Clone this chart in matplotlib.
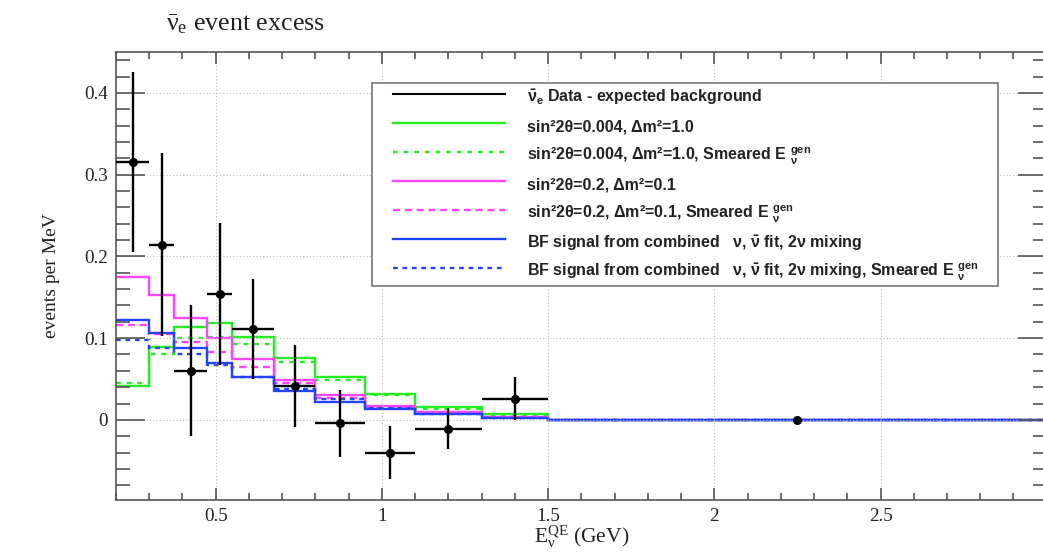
import numpy as np
import matplotlib
matplotlib.use("Agg")
import matplotlib.pyplot as plt
from matplotlib.lines import Line2D
from matplotlib.legend_handler import HandlerLine2D
from matplotlib.ticker import MultipleLocator, FuncFormatter
from matplotlib.font_manager import FontProperties

plt.rcParams['font.family'] = ['Liberation Serif', 'DejaVu Serif']
plt.rcParams['mathtext.default'] = 'regular'

# bin edges (GeV) and values
edges = [0.2, 0.3, 0.375, 0.475, 0.55, 0.675, 0.8, 0.95, 1.1, 1.3, 1.5, 3.0]
data_y = [0.315, 0.214, 0.060, 0.154, 0.111, 0.041, -0.004, -0.040, -0.011, 0.026, 0.0]
data_err = [0.110, 0.112, 0.080, 0.087, 0.061, 0.050, 0.041, 0.032, 0.025, 0.026, 0.002]

green_solid = [0.041, 0.089, 0.114, 0.118, 0.101, 0.076, 0.053, 0.032, 0.0155, 0.0073, 0.0]
green_dash = [0.045, 0.080, 0.100, 0.101, 0.093, 0.071, 0.049, 0.031, 0.0134, 0.005, 0.0]
pink_solid = [0.175, 0.153, 0.125, 0.100, 0.074, 0.049, 0.031, 0.0175, 0.0102, 0.004, 0.0]
pink_dash = [0.116, 0.105, 0.095, 0.083, 0.065, 0.0456, 0.027, 0.0163, 0.009, 0.003, 0.0]
blue_solid = [0.1225, 0.106, 0.0876, 0.069, 0.053, 0.035, 0.022, 0.013, 0.0073, 0.002, 0.0]
blue_dash = [0.098, 0.088, 0.080, 0.067, 0.053, 0.038, 0.025, 0.014, 0.007, 0.002, 0.0]

labels = [
    r"$\bar{\nu}_e$ Data - expected background",
    "sin²2θ=0.004, Δm²=1.0",
    r"sin²2θ=0.004, Δm²=1.0, Smeared E $_{\nu}^{gen}$",
    "sin²2θ=0.2, Δm²=0.1",
    r"sin²2θ=0.2, Δm²=0.1, Smeared E $_{\nu}^{gen}$",
    r"BF signal from combined   ν, $\bar{\nu}$ fit, 2ν mixing",
    r"BF signal from combined   ν, $\bar{\nu}$ fit, 2ν mixing, Smeared E $_{\nu}^{gen}$",
]

GREEN = '#22ee22'
PINK = '#ff44ff'
BLUE = '#2244ff'

edges_a = np.array(edges)
centers = (edges_a[1:] + edges_a[:-1]) / 2
halfw = (edges_a[1:] - edges_a[:-1]) / 2

fig = plt.figure(figsize=(10.43, 5.52), dpi=100)
ax = fig.add_axes([116/1043, 1-500/552, (1046.7-116)/1043, 448/552])

lw = 1.7
styles = [
    (green_solid, GREEN, '-'),
    (green_dash, GREEN, (0, (2, 2.5))),
    (pink_solid, PINK, '-'),
    (pink_dash, PINK, (0, (3, 2))),
    (blue_solid, BLUE, '-'),
    (blue_dash, BLUE, (0, (2, 2))),
]
for vals, c, ls in styles:
    ax.stairs(vals, edges, baseline=None, color=c, lw=lw, linestyle=ls)

ax.errorbar(centers[:10], data_y[:10], xerr=halfw[:10], yerr=data_err[:10],
            fmt='o', color='k', ms=5.5, elinewidth=1.7, capsize=0, zorder=5)
ax.errorbar(centers[10:], data_y[10:], yerr=data_err[10:],
            fmt='o', color='k', ms=5.5, elinewidth=1.7, capsize=0, zorder=5)

ax.set_xlim(0.2, 3.0)
ax.set_ylim(-0.098, 0.45)
ax.xaxis.set_major_locator(MultipleLocator(0.5))
ax.xaxis.set_minor_locator(MultipleLocator(0.1))
ax.yaxis.set_major_locator(MultipleLocator(0.1))
ax.yaxis.set_minor_locator(MultipleLocator(0.02))
fmt = FuncFormatter(lambda v, p: f"{round(v, 3):g}")
ax.xaxis.set_major_formatter(fmt)
ax.yaxis.set_major_formatter(fmt)

for s in ax.spines.values():
    s.set_color('#555555')
    s.set_linewidth(1.2)
ax.tick_params(which='both', direction='in', top=True, right=True,
               color='#555555', width=1.2, labelsize=13.8, labelcolor='#222222')
ax.tick_params(axis='x', which='major', length=8.6, pad=6)
ax.tick_params(axis='x', which='minor', length=5)
ax.tick_params(axis='y', which='major', length=21, pad=6)
ax.tick_params(axis='y', which='minor', length=10)
ax.grid(True, which='major', linestyle=(0, (1, 2)), color='#bbbbbb', lw=0.8)

ax.set_ylabel("events per MeV", fontsize=14, labelpad=17, color='#222222')
ax.set_xlabel(r"E$_{\nu}^{QE}$ (GeV)", fontsize=15.5, labelpad=-1, color='#222222')
fig.text(166/1043, 1-24/552, r"$\bar{\nu}_e$ event excess", fontsize=18.7,
         va='center', ha='left', color='#222222')

handles = [
    Line2D([], [], color='k', lw=1.5),
    Line2D([], [], color=GREEN, lw=lw),
    Line2D([], [], color=GREEN, lw=lw, ls=(0, (2, 2.5))),
    Line2D([], [], color=PINK, lw=lw),
    Line2D([], [], color=PINK, lw=lw, ls=(0, (3, 2))),
    Line2D([], [], color=BLUE, lw=lw),
    Line2D([], [], color=BLUE, lw=lw, ls=(0, (2, 2))),
]
prop = FontProperties(family=['Liberation Sans', 'DejaVu Sans'], weight='bold', size=11.5)
leg = ax.legend(handles, labels, prop=prop, loc='upper left',
                bbox_to_anchor=(372/1043, 0, (998-372)/1043, 1-83/552),
                bbox_transform=fig.transFigure, mode='expand', borderaxespad=0,
                borderpad=0.15, handlelength=8.18, handleheight=1.9, labelspacing=0.34,
                handletextpad=1.38, fancybox=False, framealpha=1,
                edgecolor='#777777',
                handler_map={Line2D: HandlerLine2D(xpad=1.16)})
leg.get_frame().set_linewidth(1.2)
for t in leg.get_texts():
    t.set_color('#222222')

fig.savefig("out.png", dpi=100)
